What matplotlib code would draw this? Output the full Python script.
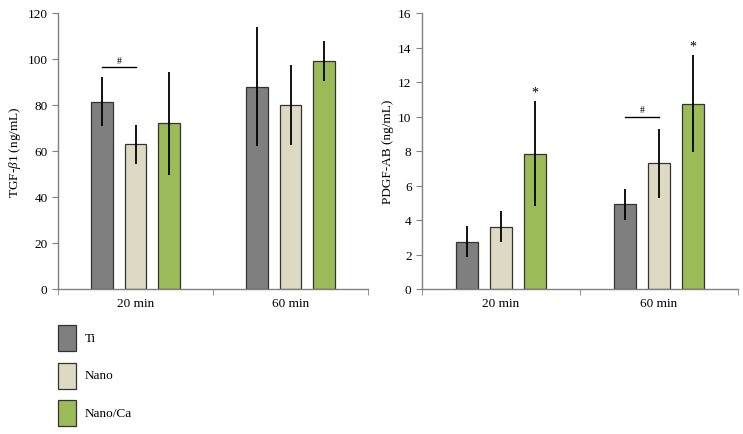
import matplotlib
matplotlib.use("Agg")
import matplotlib.pyplot as plt
import numpy as np
from matplotlib.patches import Rectangle

plt.rcParams['font.family'] = ['Liberation Serif', 'DejaVu Serif']
plt.rcParams['mathtext.fontset'] = 'custom'
plt.rcParams['mathtext.it'] = 'Liberation Serif:italic'
plt.rcParams['mathtext.rm'] = 'Liberation Serif'

categories = ["20 min", "60 min"]
groups = ["Ti", "Nano", "Nano/Ca"]
colors = ["#7f7f7f", "#ddd9c3", "#9bbb59"]

tgf_vals = {"Ti": [81.5, 88.0], "Nano": [63.0, 80.0], "Nano/Ca": [72.0, 99.0]}
tgf_err = {"Ti": [10.5, 26.0], "Nano": [8.5, 17.5], "Nano/Ca": [22.5, 8.7]}
pdgf_vals = {"Ti": [2.75, 4.9], "Nano": [3.6, 7.3], "Nano/Ca": [7.85, 10.75]}
pdgf_err = {"Ti": [0.9, 0.92], "Nano": [0.9, 2.0], "Nano/Ca": [3.05, 2.8]}

W, H = 743, 435
fig = plt.figure(figsize=(W / 100, H / 100), dpi=100)
axL = fig.add_axes([58/W, 145/H, 310/W, 276/H])
axR = fig.add_axes([422/W, 145/H, 316/W, 276/H])

width = 0.14
offsets = [-0.215, 0.0, 0.215]
x = np.arange(len(categories))
FS = 9.5

def draw(ax, vals, errs, ymax, ystep, ylabel):
    for g, c, off in zip(groups, colors, offsets):
        ax.bar(x + off, vals[g], width=width, color=c, edgecolor="#333333", linewidth=0.9, zorder=2)
        ax.errorbar(x + off, vals[g], yerr=errs[g], fmt="none", ecolor="black", elinewidth=1.3, capsize=0, zorder=3)
    ax.set_xlim(-0.5, 1.5)
    ax.set_ylim(0, ymax)
    ax.set_yticks(np.arange(0, ymax + 0.001, ystep))
    ax.set_xticks(x)
    ax.set_xticklabels(categories)
    ax.set_xticks([-0.5, 0.5, 1.5], minor=True)
    ax.tick_params(axis="x", which="major", length=0, labelsize=FS, pad=6)
    ax.tick_params(axis="x", which="minor", length=4, color="#808080", direction="out")
    ax.tick_params(axis="y", length=4, color="#808080", labelsize=FS, direction="out")
    for s in ["top", "right"]:
        ax.spines[s].set_visible(False)
    for s in ["left", "bottom"]:
        ax.spines[s].set_color("#808080")
        ax.spines[s].set_linewidth(1.0)
    ax.set_ylabel(ylabel, fontsize=FS, labelpad=3)

draw(axL, tgf_vals, tgf_err, 120, 20, r"TGF-$\it{\beta}$1 (ng/mL)")
draw(axR, pdgf_vals, pdgf_err, 16, 2, "PDGF-AB (ng/mL)")

# significance annotations
axL.plot([0 + offsets[0], 0 + offsets[1]], [96.5, 96.5], color="black", lw=1.0)
axL.text((offsets[0] + offsets[1]) / 2, 97.5, "#", ha="center", va="bottom", fontsize=7)
axR.plot([1 + offsets[0], 1 + offsets[1]], [10.0, 10.0], color="black", lw=1.0)
axR.text(1 + (offsets[0] + offsets[1]) / 2, 10.15, "#", ha="center", va="bottom", fontsize=7)
for i in range(2):
    top = pdgf_vals["Nano/Ca"][i] + pdgf_err["Nano/Ca"][i]
    axR.text(i + offsets[2], top + 0.15, "*", ha="center", va="bottom", fontsize=10)

# legend drawn manually
for i, (g, c) in enumerate(zip(groups, colors)):
    top = 326 + i * 37.5
    fig.add_artist(Rectangle((58/W, 1 - (top + 26)/H), 18/W, 26/H, transform=fig.transFigure,
                             facecolor=c, edgecolor="#333333", linewidth=0.9))
    fig.text(85/W, 1 - (top + 13)/H, g, ha="left", va="center", fontsize=FS)

fig.savefig("out.png", dpi=100)
